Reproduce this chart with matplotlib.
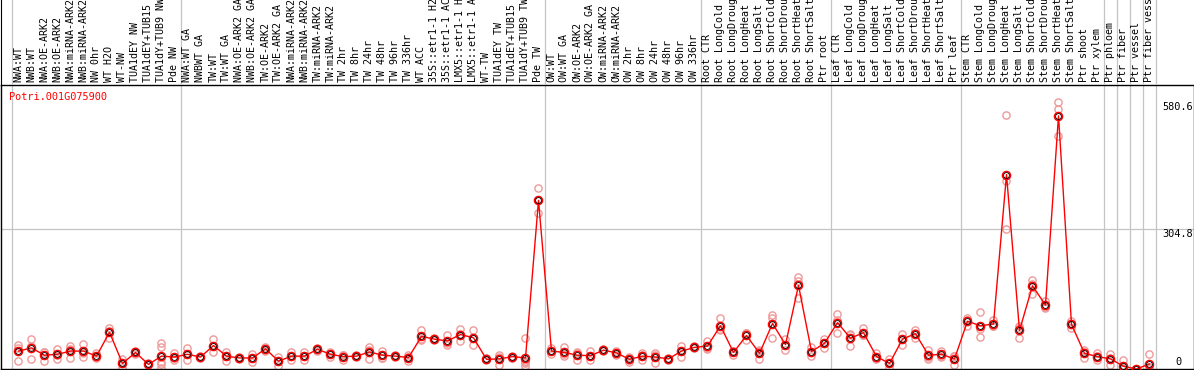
import matplotlib
matplotlib.use('Agg')
import matplotlib.pyplot as plt
from matplotlib.transforms import blended_transform_factory

gene = 'Potri.001G075900'

samples = [
    'NWA:WT', 'NWB:WT', 'NWA:OE-ARK2', 'NWB:OE-ARK2', 'NWA:miRNA-ARK2', 'NWB:miRNA-ARK2',
    'NW 0hr', 'WT H2O', 'WT-NW', 'TUA1dEY NW', 'TUA1dEY+TUB15 NW', 'TUA1dY+TUB9 NW', 'Pde NW',
    'NWA:WT GA', 'NWBWT GA', 'TW:WT', 'TW:WT GA', 'NWA:OE-ARK2 GA', 'NWB:OE-ARK2 GA',
    'TW:OE-ARK2', 'TW:OE-ARK2 GA', 'NWA:miRNA-ARK2', 'NWB:miRNA-ARK2', 'TW:miRNA-ARK2',
    'TW:miRNA-ARK2', 'TW 2hr', 'TW 8hr', 'TW 24hr', 'TW 48hr', 'TW 96hr', 'TW 336hr',
    'WT ACC', '35S::etr1-1 H2O', '35S::etr1-1 ACC', 'LMX5::etr1-1 H2O', 'LMX5::etr1-1 ACC',
    'WT-TW', 'TUA1dEY TW', 'TUA1dEY+TUB15 TW', 'TUA1dY+TUB9 TW', 'Pde TW',
    'OW:WT', 'OW:WT GA', 'OW:OE-ARK2', 'OW:OE-ARK2 GA', 'OW:miRNA-ARK2', 'OW:miRNA-ARK2',
    'OW 2hr', 'OW 8hr', 'OW 24hr', 'OW 48hr', 'OW 96hr', 'OW 336hr',
    'Root CTR', 'Root LongCold', 'Root LongDrought', 'Root LongHeat', 'Root LongSalt',
    'Root ShortCold', 'Root ShortDrought', 'Root ShortHeat', 'Root ShortSalt', 'Ptr root',
    'Leaf CTR', 'Leaf LongCold', 'Leaf LongDrought', 'Leaf LongHeat', 'Leaf LongSalt',
    'Leaf ShortCold', 'Leaf ShortDrought', 'Leaf ShortHeat', 'Leaf ShortSalt', 'Ptr leaf',
    'Stem CTR', 'Stem LongCold', 'Stem LongDrought', 'Stem LongHeat', 'Stem LongSalt',
    'Stem ShortCold', 'Stem ShortDrought', 'Stem ShortHeat', 'Stem ShortSalt', 'Ptr shoot',
    'Ptr xylem', 'Ptr phloem', 'Ptr fiber', 'Ptr vessel', 'Ptr fiber vessel',
]

# number of samples in each experiment block (grey separators)
group_sizes = [13, 28, 12, 10, 10, 11, 1, 1, 1, 1]

means = [
    39, 46, 30, 32, 39, 39, 28, 80, 12, 36, 10, 28, 26,
    32, 26, 51, 28, 24, 24, 44, 17, 28, 28, 43, 32, 27, 28, 37, 30, 28,
    25, 71, 65, 61, 75, 68, 21, 22, 27, 24, 367,
    39, 36, 30, 29, 41, 35, 21, 28, 26, 22, 39, 47,
    50, 94, 36, 73, 34, 99, 53, 182, 38, 56,
    101, 67, 79, 27, 12, 65, 77, 30, 32, 22,
    104, 94, 98, 423, 84, 181, 139, 551, 97, 34, 27,
    22, 6, 0, 11,
]

replicates = [
    [52, 17, 45], [66, 21, 50], [37, 17, 36], [43, 22, 31], [50, 24, 43], [55, 27, 35],
    [35, 23, 26], [89, 68, 83], [2, 12, 22], [33, 36, 39], [8, 10, 12],
    [56, 48, 16, 10, 2], [34, 19, 25],
    [45, 19, 32], [24, 28, 26], [66, 38, 49], [37, 18, 29], [22, 26, 24], [32, 24, 16],
    [40, 48, 44], [27, 7, 17], [37, 19, 28], [37, 19, 28], [40, 46, 43], [37, 27, 32],
    [31, 19, 30], [26, 30, 28], [47, 22, 42], [40, 25, 25], [26, 30, 28], [31, 17, 27],
    [84, 65, 64], [63, 67, 65], [75, 56, 52], [87, 62, 76], [84, 53, 67], [19, 23, 21],
    [27, 9, 30], [25, 29, 27], [68, 16, 12, 7, 17], [394, 340, 367],
    [45, 32, 40], [48, 28, 32], [37, 19, 34], [40, 19, 28], [39, 43, 41], [40, 30, 35],
    [27, 16, 20], [35, 19, 30], [34, 14, 30], [20, 24, 22], [50, 27, 40], [45, 49, 47],
    [61, 43, 46], [110, 84, 88], [39, 30, 39], [78, 63, 78], [41, 21, 40], [117, 111, 68],
    [66, 41, 52], [200, 155, 191], [48, 29, 37], [66, 45, 57],
    [119, 78, 106], [77, 51, 73], [89, 73, 75], [35, 21, 25], [21, 2, 13], [77, 52, 66],
    [84, 68, 79], [41, 22, 27], [40, 27, 29], [28, 9, 29],
    [112, 93, 107], [125, 70, 87], [107, 94, 93], [553, 409, 304], [94, 68, 90],
    [194, 164, 185], [149, 135, 133], [580.6, 565, 506], [104, 90, 97], [41, 25, 36],
    [34, 19, 28], [32, 9, 25], [19, 0, 0], [0, 0, 1], [32, 5, 0],
]

y_ticks = [0, 304.8, 580.6]

W, H = 1194, 370
fig = plt.figure(figsize=(W / 100, H / 100), dpi=100)


def px_axes(x0, y0, x1, y1):
    return fig.add_axes([x0 / W, 1 - y1 / H, (x1 - x0) / W, (y1 - y0) / H])


ax = px_axes(0.5, 85, 1193.5, 369)
lab = px_axes(0.5, 0, 1193.5, 85)

xmin, xmax = (0.5 - 18.5) / 13, (1193.5 - 18.5) / 13
grid_col = '#c4c4c4'
mono = 'DejaVu Sans Mono'

# separators between experiment blocks
bounds = [-0.5]
for g in group_sizes:
    bounds.append(bounds[-1] + g)
for b in bounds:
    ax.axvline(b, color=grid_col, lw=0.9, zorder=0)
    lab.axvline(b, color=grid_col, lw=0.9, zorder=0)

ax.axhline(y_ticks[1], color=grid_col, lw=0.9, zorder=0)

for i, reps in enumerate(replicates):
    ax.plot([i] * len(reps), reps, 'o', ms=5.2, mfc='none', mec='#ee9a9a', mew=1.0, zorder=2)

xs = list(range(len(samples)))
ax.plot(xs, means, '-', color='red', lw=1.0, zorder=3)
ax.plot(xs, means, 'o', ms=5.8, mfc='none', mec='red', mew=1.1, zorder=4)
ax.plot(xs, means, 'o', ms=4.2, mfc='none', mec='black', mew=0.6, zorder=5)

ax.set_xlim(xmin, xmax)
ax.set_ylim(0, 618)
ax.set_xticks([])
ax.set_yticks([])
for s in ax.spines.values():
    s.set_color('black')
    s.set_linewidth(1.0)

tr = blended_transform_factory(ax.transAxes, ax.transData)
ax.text(0.9995, y_ticks[2], '580.6', transform=tr, ha='right', va='top',
        family=mono, fontsize=7.4)
ax.text(0.9995, y_ticks[1], '304.8', transform=tr, ha='right', va='top',
        family=mono, fontsize=7.4)
ax.text(0.987, y_ticks[0] + 4, '0', transform=tr, ha='center', va='bottom',
        family=mono, fontsize=7.4)

ax.text(8.5 / 1193, (369 - 97) / 284, gene, transform=ax.transAxes, color='red',
        ha='left', va='center', family=mono, fontsize=7.4)

# sample names, rotated and cut at the top edge as in the original
lab.set_xlim(xmin, xmax)
lab.set_ylim(0, 85)
lab.set_xticks([])
lab.set_yticks([])
lab.patch.set_alpha(0)
for side in ['top', 'right', 'bottom']:
    lab.spines[side].set_visible(False)
lab.spines['left'].set_color('black')
for i, name in enumerate(samples):
    t = lab.text(i, 3, name, rotation=90, ha='center', va='bottom',
                 family=mono, fontsize=7.2, clip_on=True)
    t.set_clip_box(lab.bbox)

fig.savefig('out.png', dpi=100)
